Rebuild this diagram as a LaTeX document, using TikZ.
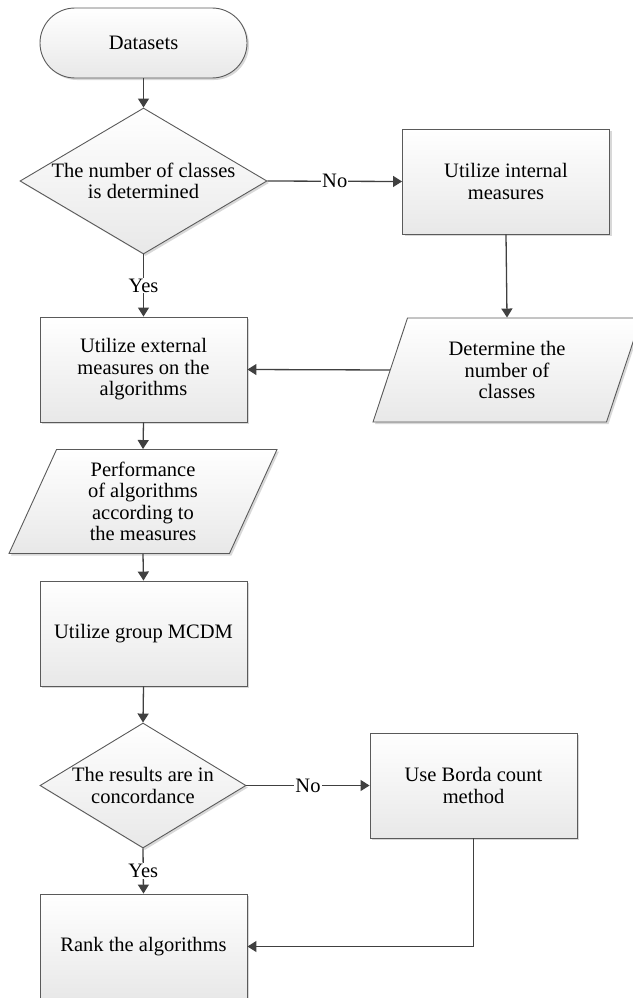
\documentclass[tikz,border=0pt]{standalone}
\usepackage{fontspec}
\setmainfont{Liberation Serif}
\usetikzlibrary{shadows}
\usetikzlibrary{positioning}
\usetikzlibrary{arrows.meta,shapes.geometric,shapes.misc}
\definecolor{linegray}{HTML}{404040}
\definecolor{bordergray}{HTML}{5A5A5A}
\tikzstyle{block}=[draw=bordergray,line width=0.9pt,top color=white,bottom color=black!9,drop shadow={shadow xshift=2pt,shadow yshift=-2pt,fill=black!30,opacity=0.5},align=center,inner sep=0pt]
\tikzstyle{terminal}=[block,rounded rectangle,minimum width=207pt,minimum height=70pt]
\tikzstyle{process}=[block,rectangle,minimum width=207pt,minimum height=105pt]
\tikzstyle{io}=[block,trapezium,trapezium left angle=59,trapezium right angle=121,trapezium stretches body,minimum width=268pt,minimum height=104pt]
\tikzstyle{decision}=[block,diamond]
\tikzstyle{inside}=[align=center]
\tikzstyle{flow} = [draw,line width=1.3pt,linegray,-{Triangle[length=9pt,width=11pt]}]
\tikzstyle{answer} = [fill=white,inner sep=1pt,text=black]

\begin{document}
\begin{tikzpicture}[x=1pt,y=-1pt,font=\fontsize{20.5}{21.5}\selectfont]
  \useasboundingbox (0,0) rectangle (632,998);

  \node[terminal] (start) at (143.5,43) {Datasets};

  \foreach \pos/\name/\txt in {{(506,181.5)/internal/{Utilize internal\\measures}},
                               {(143.5,369.5)/external/{Utilize external\\measures on the\\algorithms}},
                               {(143.5,633.5)/mcdm/{Utilize group MCDM}},
                               {(473.5,785.5)/borda/{Use Borda count\\method}},
                               {(143.5,946.5)/rank/{Rank the algorithms}}}
        \node[process] (\name) at \pos {\txt};

  \foreach \pos/\name/\txt in {{(507,370)/number/{Determine the\\number of\\classes}},
                               {(143,501.5)/perf/{Performance\\of algorithms\\according to\\the measures}}}
        \node[io] (\name) at \pos {\txt};

  \node[decision,minimum width=247pt,minimum height=146pt,
        label={[inside]center:The number of classes\\is determined}] (cls) at (143.5,181) {};
  \node[decision,minimum width=206pt,minimum height=125pt,
        label={[inside]center:The results are in\\concordance}] (concord) at (143,785.5) {};

  % straight down
  \foreach \source/\dest in {start/cls, internal/number, external/perf, perf/mcdm, mcdm/concord}
          \path[flow] (\source.south) -- (\dest.north);

  % decisions
  \path[flow] (cls.east) -- node[answer] {No} (internal.west);
  \path[flow] (cls.south) -- node[answer] {Yes} (external.north);
  \path[flow] (concord.east) -- node[answer] {No} (borda.west);
  \path[flow] (concord.south) -- node[answer] {Yes} (rank.north);

  % back to the left column
  \path[flow] (number.west) -- (external.east);
  \path[flow] (borda.south) |- (rank.east);

\end{tikzpicture}
\end{document}
